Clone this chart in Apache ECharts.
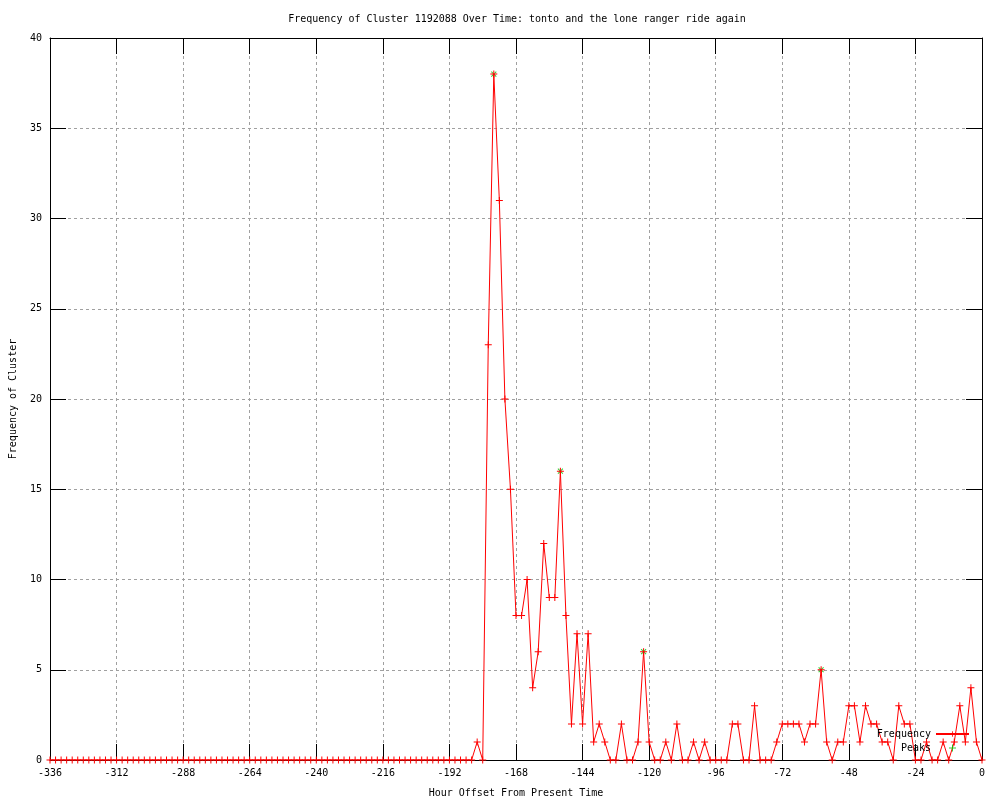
<!DOCTYPE html>
<html>
<head>
<meta charset="utf-8">
<script src="https://cdn.jsdelivr.net/npm/echarts@6/dist/echarts.min.js"></script>
<style>html,body{margin:0;padding:0;background:#fff;}#chart{width:1000px;height:800px;}</style>
</head>
<body>
<div id="chart"></div>
<script>
// ---- data ----
const titleText = 'Frequency of Cluster 1192088 Over Time: tonto and the lone ranger ride again';
const hourStart = -336;   // first sample (hours from present)
const hourStep = 2;       // sampling step (hours)
const frequency = [
  0,0,0,0,0,0,0,0,0,0, 0,0,0,0,0,0,0,0,0,0,
  0,0,0,0,0,0,0,0,0,0, 0,0,0,0,0,0,0,0,0,0,
  0,0,0,0,0,0,0,0,0,0, 0,0,0,0,0,0,0,0,0,0,
  0,0,0,0,0,0,0,0,0,0, 0,0,0,0,0,0,0,
  1,0,23,38,31,20,15,8,8,10,
  4,6,12,9,9,16,8,2,7,2,
  7,1,2,1,0,0,2,0,0,1,
  6,1,0,0,1,0,2,0,0,1,
  0,1,0,0,0,0,2,2,0,0,
  3,0,0,0,1,2,2,2,2,1,
  2,2,5,1,0,1,1,3,3,1,
  3,2,2,1,1,0,3,2,2,0,
  0,1,0,0,1,0,1,3,1,4,
  1,0
];
const peakHours = [-176, -152, -122, -58];
const peakValues = [38, 16, 6, 5];
const xTicks = { min: -336, max: 0, interval: 24 };
const yTicks = { min: 0, max: 40, interval: 5 };

// ---- build ----
const freqData = frequency.map((v, i) => [hourStart + i * hourStep, v]);
const peakData = peakHours.map((h, i) => [h, peakValues[i]]);

const FONT = '"DejaVu Sans Mono", "Liberation Mono", monospace';
const plus = 'path://M3,0h1v3h3v1h-3v3h-1v-3h-3v-1h3z';
const gridLine = { show: true, lineStyle: { color: '#a0a0a0', width: 1, type: [3, 3] } };
const tick = { show: true, inside: true, length: 16, lineStyle: { color: '#000', width: 1 } };
const axisLine = { show: true, onZero: false, lineStyle: { color: '#000', width: 1 } };
const lbl = { color: '#000', fontFamily: FONT, fontSize: 10 };

const chart = echarts.init(document.getElementById('chart'), null, { renderer: 'canvas' });
chart.setOption({
  animation: false,
  backgroundColor: '#fff',
  title: {
    text: titleText, left: 512, top: 9, textAlign: 'center',
    textStyle: { fontFamily: FONT, fontSize: 10, fontWeight: 'normal', color: '#000' }
  },
  grid: { left: 50, right: 18, top: 38, bottom: 40, containLabel: false, outerBoundsMode: 'none' },
  legend: {
    data: ['Frequency', 'Peaks'], orient: 'vertical', align: 'right',
    right: 25, top: 724, itemWidth: 33, itemHeight: 7, itemGap: 4,
    textStyle: { fontFamily: FONT, fontSize: 10, color: '#000' },
    inactiveColor: '#ccc'
  },
  xAxis: [
    {
      type: 'value', position: 'bottom', min: xTicks.min, max: xTicks.max, interval: xTicks.interval,
      name: 'Hour Offset From Present Time', nameLocation: 'middle', nameGap: 28,
      nameTextStyle: lbl,
      axisLine: axisLine, axisTick: tick, splitLine: gridLine,
      axisLabel: Object.assign({ margin: 8 }, lbl)
    },
    {
      type: 'value', position: 'top', min: xTicks.min, max: xTicks.max, interval: xTicks.interval,
      axisLine: axisLine, axisTick: tick, splitLine: { show: false }, axisLabel: { show: false }
    }
  ],
  yAxis: [
    {
      type: 'value', position: 'left', min: yTicks.min, max: yTicks.max, interval: yTicks.interval,
      name: 'Frequency of Cluster', nameLocation: 'middle', nameGap: 32,
      nameTextStyle: lbl,
      axisLine: axisLine, axisTick: tick, splitLine: gridLine,
      axisLabel: Object.assign({ margin: 8 }, lbl)
    },
    {
      type: 'value', position: 'right', min: yTicks.min, max: yTicks.max, interval: yTicks.interval,
      axisLine: axisLine, axisTick: tick, splitLine: { show: false }, axisLabel: { show: false }
    }
  ],
  series: [
    {
      name: 'Peaks', type: 'scatter', data: peakData, z: 2,
      symbol: plus, symbolSize: 7, symbolRotate: 45,
      itemStyle: { color: '#00c000' }
    },
    {
      name: 'Frequency', type: 'line', data: freqData, z: 3,
      symbol: plus, symbolSize: 7, showAllSymbol: true,
      lineStyle: { color: '#ff0000', width: 1 },
      itemStyle: { color: '#ff0000' }
    }
  ]
});
</script>
</body>
</html>
